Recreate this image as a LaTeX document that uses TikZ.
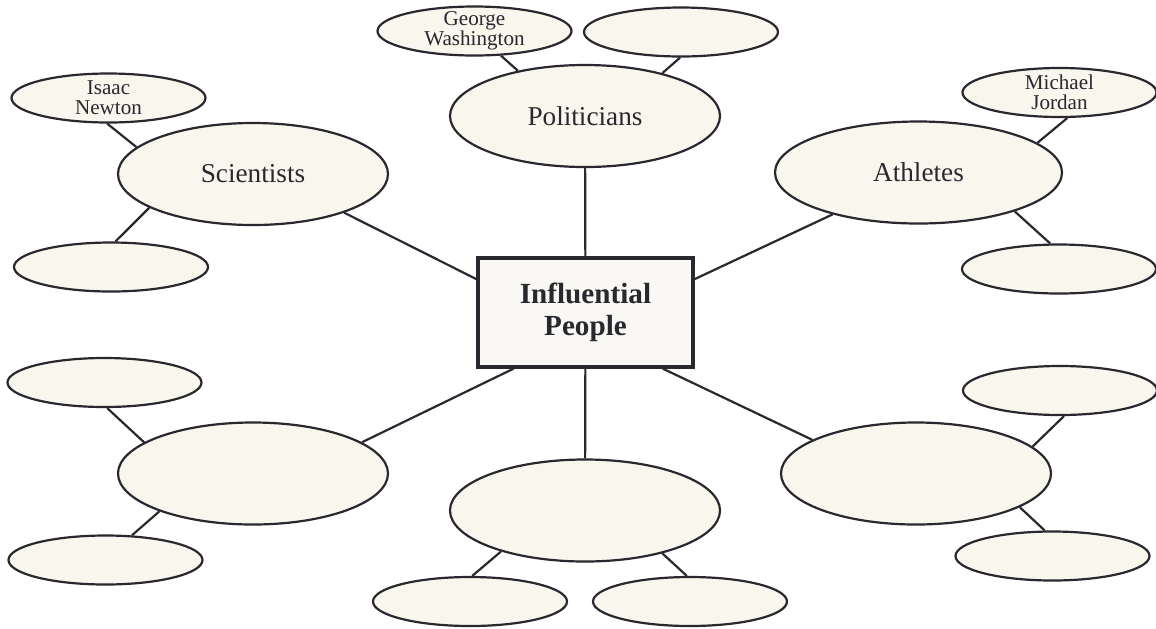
\documentclass[tikz,border=0pt]{standalone}
\usepackage{fontspec}
\setmainfont{Liberation Serif}
\usepackage{tikz}
\usetikzlibrary{shapes.geometric}
\definecolor{paper}{RGB}{249,246,238}
\definecolor{boxpaper}{RGB}{250,248,244}
\definecolor{ink}{RGB}{40,40,46}

\begin{document}
\begin{tikzpicture}[x=0.2mm, y=-0.2mm,
		big/.style={ellipse, draw=ink, line width=1.25pt, fill=paper, inner sep=0pt, minimum width=54mm, minimum height=20.4mm, text=ink, font=\fontsize{15.5}{18}\selectfont},
		small/.style={ellipse, draw=ink, line width=1.25pt, fill=paper, inner sep=0pt, minimum width=38.8mm, minimum height=9.8mm},
		who/.style={align=center, text=ink, font=\fontsize{12}{11.5}\selectfont},
		link/.style={draw=ink, line width=1.25pt}]
		\useasboundingbox (0,0) rectangle (1156,628);
		\node[draw=ink, line width=1.8pt, fill=boxpaper, minimum width=43mm, minimum height=21.8mm, align=center, text=ink, font=\fontsize{16.6}{18.3}\selectfont\bfseries] (infl) at (585.5,312.5) {Influential\\People};
		\node[big] (pol) at (585,116) {Politicians};
		\node[small, label={[who]center:George\\Washington}] (gw) at (474.5,31) {};
		\node[small] (polb) at (681,32) {};
		\node[big] (sci) at (253,174) {Scientists};
		\node[small, label={[who]center:Isaac\\Newton}] (newton) at (108.5,98) {};
		\node[small] (scib) at (111,267) {};
		\node[big, minimum width=57.4mm] (ath) at (918.5,172.5) {Athletes};
		\node[small, label={[who]center:Michael\\Jordan}] (jordan) at (1059.5,92.5) {};
		\node[small] (athb) at (1059,269) {};
		\node[big] (sw) at (253,473.5) {};
		\node[small] (swa) at (104.5,382.5) {};
		\node[small] (swb) at (105.5,560) {};
		\node[big] (so) at (585,510.5) {};
		\node[small] (soa) at (470,601.5) {};
		\node[small] (sob) at (690,601.5) {};
		\node[big] (se) at (916,473.5) {};
		\node[small] (sea) at (1060,390.5) {};
		\node[small] (seb) at (1052.5,556) {};
		\draw[link] (pol) -- (infl);
		\draw[link] (sci.-23) -- (infl.163);
		\draw[link] (ath.206) -- (infl.17);
		\draw[link] (sw.16) -- (infl.218);
		\draw[link] (so) -- (infl);
		\draw[link] (se.162) -- (infl.-36);
		\draw[link] (gw.-43) -- (pol.146);
		\draw[link] (polb.-92) -- (pol.29);
		\draw[link] (newton.-93) -- (sci.167);
		\draw[link] (scib.80) -- (sci.198);
		\draw[link] (jordan.-73) -- (ath.14);
		\draw[link] (athb.109) -- (ath.-22);
		\draw[link] (swa.-84) -- (sw.164);
		\draw[link] (swb.43) -- (sw.202);
		\draw[link] (soa.85) -- (so.206);
		\draw[link] (sob.97) -- (so.-29);
		\draw[link] (sea.-81) -- (se.13);
		\draw[link] (seb.107) -- (se.-18);
	\end{tikzpicture}
\end{document}
